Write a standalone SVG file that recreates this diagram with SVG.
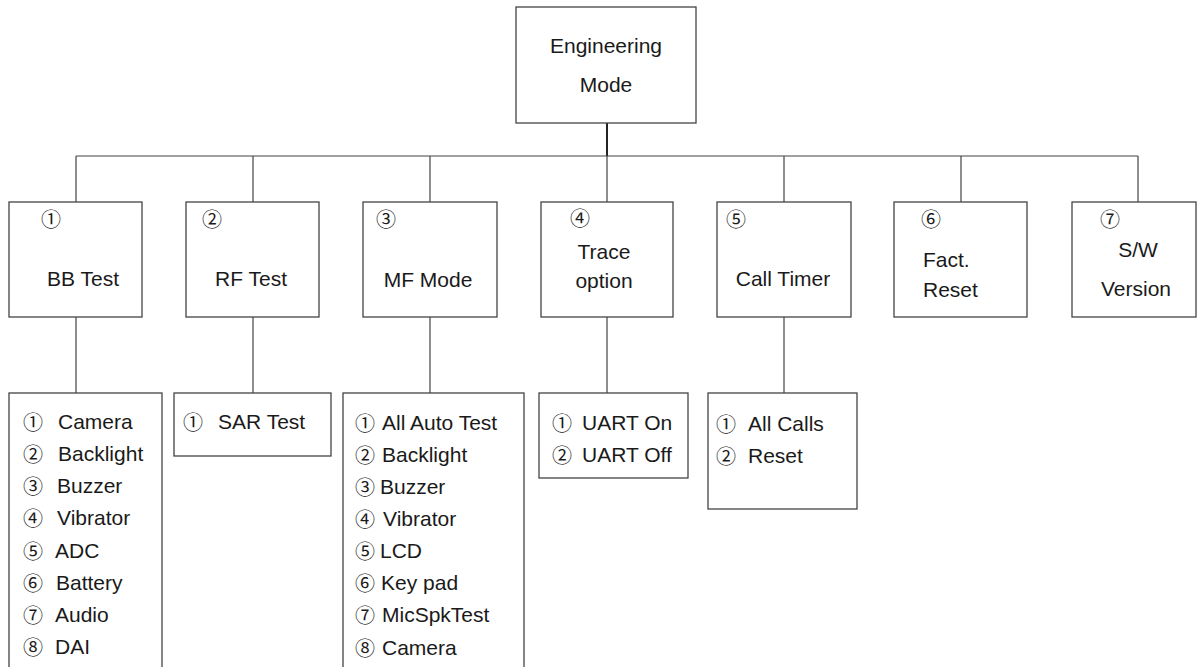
<svg xmlns="http://www.w3.org/2000/svg" width="1197" height="667" viewBox="0 0 1197 667">
<style>
.box{fill:#fff;stroke:#444;stroke-width:1.3}
.ln{fill:none;stroke:#444;stroke-width:1.2}
.thick{fill:none;stroke:#222;stroke-width:2}
text{font-family:"Liberation Sans",Arial,sans-serif;font-size:21px;fill:#1a1a1a}
.c{text-anchor:middle}
.n{font-family:"Noto Sans CJK JP","DejaVu Sans",sans-serif;font-size:20px}
</style>
<rect width="1197" height="667" fill="#fff"/>
<g id="connectors">
<path class="thick" d="M607 123V156"/>
<path class="ln" d="M76 156H1138M76 156V202M253 156V202M430 156V202M607 156V202M784 156V202M961 156V202M1138 156V202"/>
<path class="ln" d="M76 317V393M253 317V393M430 317V393M607 317V393M784 317V393"/>
</g>
<g id="root"><rect class="box" x="516" y="7" width="180" height="116"/><text class="c" x="606" y="53">Engineering</text><text class="c" x="606" y="92">Mode</text></g>
<g id="bb"><rect class="box" x="9" y="202" width="133" height="115"/><text class="n" x="41" y="227">①</text><text class="c" x="83" y="286">BB Test</text></g>
<g id="rf"><rect class="box" x="186" y="202" width="133" height="115"/><text class="n" x="202" y="227">②</text><text class="c" x="251" y="286">RF Test</text></g>
<g id="mf"><rect class="box" x="363" y="202" width="134" height="115"/><text class="n" x="376" y="227">③</text><text class="c" x="428" y="287">MF Mode</text></g>
<g id="trace"><rect class="box" x="541" y="202" width="132" height="115"/><text class="n" x="570" y="226">④</text><text class="c" x="604" y="259">Trace</text><text class="c" x="604" y="288">option</text></g>
<g id="call"><rect class="box" x="717" y="202" width="134" height="115"/><text class="n" x="726" y="227">⑤</text><text class="c" x="783" y="286">Call Timer</text></g>
<g id="fact"><rect class="box" x="894" y="202" width="133" height="115"/><text class="n" x="921" y="227">⑥</text><text x="923" y="267">Fact.</text><text x="923" y="297">Reset</text></g>
<g id="sw"><rect class="box" x="1072" y="202" width="124" height="115"/><text class="n" x="1100" y="227">⑦</text><text class="c" x="1138" y="257">S/W</text><text class="c" x="1136" y="296">Version</text></g>
<g id="bblist"><rect class="box" x="9" y="393" width="153" height="300"/>
<text class="n" x="23" y="430">①</text><text x="58" y="429">Camera</text>
<text class="n" x="23" y="462">②</text><text x="58" y="461">Backlight</text>
<text class="n" x="23" y="494">③</text><text x="57" y="493">Buzzer</text>
<text class="n" x="23" y="526">④</text><text x="57" y="525">Vibrator</text>
<text class="n" x="23" y="559">⑤</text><text x="55" y="558">ADC</text>
<text class="n" x="23" y="591">⑥</text><text x="56" y="590">Battery</text>
<text class="n" x="23" y="623">⑦</text><text x="55" y="622">Audio</text>
<text class="n" x="23" y="655">⑧</text><text x="55" y="654">DAI</text>
</g>
<g id="sar"><rect class="box" x="174" y="393" width="157" height="63"/><text class="n" x="183" y="430">①</text><text x="218" y="429">SAR Test</text></g>
<g id="mflist"><rect class="box" x="343" y="393" width="181" height="300"/>
<text class="n" x="355" y="431">①</text><text x="382" y="430">All Auto Test</text>
<text class="n" x="355" y="463">②</text><text x="382" y="462">Backlight</text>
<text class="n" x="355" y="495">③</text><text x="380" y="494">Buzzer</text>
<text class="n" x="355" y="527">④</text><text x="383" y="526">Vibrator</text>
<text class="n" x="355" y="559">⑤</text><text x="380" y="558">LCD</text>
<text class="n" x="355" y="591">⑥</text><text x="381" y="590">Key pad</text>
<text class="n" x="355" y="623">⑦</text><text x="382" y="622">MicSpkTest</text>
<text class="n" x="355" y="656">⑧</text><text x="382" y="655">Camera</text>
</g>
<g id="tracelist"><rect class="box" x="539" y="393" width="149" height="85"/><text class="n" x="552" y="431">①</text><text x="582" y="430">UART On</text><text class="n" x="552" y="463">②</text><text x="582" y="462">UART Off</text></g>
<g id="calllist"><rect class="box" x="708" y="393" width="149" height="116"/><text class="n" x="716" y="432">①</text><text x="748" y="431">All Calls</text><text class="n" x="716" y="464">②</text><text x="748" y="463">Reset</text></g>
</svg>
